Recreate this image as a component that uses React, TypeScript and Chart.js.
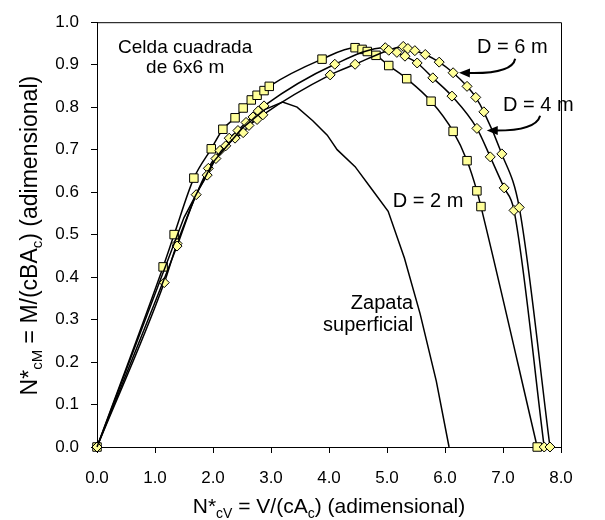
import React, { useEffect, useRef } from 'react';
import { Chart, registerables } from 'chart.js';

Chart.register(...registerables);

const FONT = "'Liberation Sans', Arial, Helvetica, sans-serif";

// Axis ticks
const xTicks = [0, 1, 2, 3, 4, 5, 6, 7, 8];
const yTicks = [0, 0.1, 0.2, 0.3, 0.4, 0.5, 0.6, 0.7, 0.8, 0.9, 1.0];

// D = 2 m (squares)
const d2X = [0, 1.14, 1.33, 1.67, 1.97, 2.17, 2.38, 2.52, 2.66, 2.76, 2.88, 2.97, 3.88, 4.45, 4.57, 4.66, 4.81, 5.03, 5.34, 5.76, 6.14, 6.38, 6.55, 6.62, 7.59];
const d2Y = [0, 0.424, 0.5, 0.633, 0.702, 0.748, 0.775, 0.798, 0.817, 0.828, 0.839, 0.849, 0.913, 0.94, 0.936, 0.931, 0.922, 0.898, 0.867, 0.814, 0.743, 0.674, 0.603, 0.566, 0];

// D = 4 m (diamonds)
const d4X = [0, 1.16, 1.38, 1.92, 2.12, 2.28, 2.43, 2.57, 2.69, 2.78, 2.88, 4.1, 4.97, 5.17, 5.31, 5.52, 5.79, 6.12, 6.55, 6.78, 7.02, 7.19, 7.71];
const d4Y = [0, 0.387, 0.479, 0.656, 0.698, 0.727, 0.745, 0.764, 0.777, 0.791, 0.803, 0.901, 0.94, 0.929, 0.92, 0.904, 0.869, 0.826, 0.75, 0.683, 0.61, 0.557, 0];

// D = 6 m (diamonds)
const d6X = [0, 1.38, 1.71, 1.9, 2.05, 2.22, 2.38, 2.52, 2.62, 2.76, 2.86, 4.02, 4.45, 5.03, 5.28, 5.36, 5.48, 5.66, 5.9, 6.14, 6.38, 6.53, 6.67, 6.98, 7.28, 7.81];
const d6Y = [0, 0.473, 0.594, 0.64, 0.679, 0.709, 0.727, 0.74, 0.757, 0.771, 0.782, 0.876, 0.901, 0.934, 0.943, 0.938, 0.933, 0.924, 0.906, 0.881, 0.849, 0.823, 0.789, 0.69, 0.564, 0];

// Zapata superficial (line only)
const zX = [0, 1.0, 1.5, 2.0, 2.5, 2.9, 3.2, 3.45, 3.72, 3.97, 4.14, 4.45, 4.71, 5.02, 5.3, 5.57, 5.85, 6.07];
const zY = [0, 0.36, 0.54, 0.67, 0.75, 0.795, 0.812, 0.8, 0.768, 0.734, 0.7, 0.66, 0.612, 0.555, 0.445, 0.314, 0.155, 0];

// Text annotations (data coordinates)
const labels = [
  { text: 'Celda cuadrada', x: 1.52, y: 0.927, align: 'center', size: 19 },
  { text: 'de 6x6 m', x: 1.52, y: 0.881, align: 'center', size: 19 },
  { text: 'D = 6 m', x: 7.16, y: 0.927, align: 'center', size: 20 },
  { text: 'D = 4 m', x: 7.0, y: 0.791, align: 'left', size: 20 },
  { text: 'D = 2 m', x: 5.1, y: 0.564, align: 'left', size: 20 },
  { text: 'Zapata', x: 5.45, y: 0.326, align: 'right', size: 20 },
  { text: 'superficial', x: 5.45, y: 0.273, align: 'right', size: 20 },
];

// Arrows (start, control, tip) in data coordinates
const arrows = [
  { sx: 7.21, sy: 0.914, cx: 7.16, cy: 0.878, ex: 6.24, ey: 0.881 },
  { sx: 7.64, sy: 0.78, cx: 7.57, cy: 0.745, ex: 6.72, ey: 0.745 },
];

const xTitle: [string, boolean][] = [['N*', false], ['cV', true], [' = V/(cA', false], ['c', true], [') (adimensional)', false]];
const yTitle: [string, boolean][] = [['N*', false], ['cM', true], [' = M/(cBA', false], ['c', true], [') (adimensional)', false]];

const toPts = (xs: number[], ys: number[]) => xs.map((x, i) => ({ x, y: ys[i] }));

function drawRich(ctx: CanvasRenderingContext2D, parts: [string, boolean][], x: number, y: number, size: number) {
  const sub = Math.round(size * 0.65);
  let w = 0;
  for (const [t, s] of parts) {
    ctx.font = `${s ? sub : size}px ${FONT}`;
    w += ctx.measureText(t).width;
  }
  let cx = x - w / 2;
  ctx.textAlign = 'left';
  ctx.textBaseline = 'alphabetic';
  for (const [t, s] of parts) {
    ctx.font = `${s ? sub : size}px ${FONT}`;
    ctx.fillText(t, cx, s ? y + size * 0.22 : y);
    cx += ctx.measureText(t).width;
  }
}

const decorPlugin = {
  id: 'decor',
  afterDraw(chart: any) {
    const ctx: CanvasRenderingContext2D = chart.ctx;
    const xs = chart.scales.x;
    const ys = chart.scales.y;
    const a = chart.chartArea;
    ctx.save();
    // top and right border
    ctx.strokeStyle = '#000';
    ctx.lineWidth = 1;
    ctx.beginPath();
    ctx.moveTo(a.left, a.top + 0.5);
    ctx.lineTo(a.right + 0.5, a.top + 0.5);
    ctx.lineTo(a.right + 0.5, a.bottom);
    ctx.stroke();

    ctx.fillStyle = '#000';
    // axis titles
    drawRich(ctx, xTitle, (a.left + a.right) / 2, 513, 21);
    ctx.save();
    ctx.translate(37, (a.top + a.bottom) / 2 + 1);
    ctx.rotate(-Math.PI / 2);
    drawRich(ctx, yTitle, 0, 0, 23);
    ctx.restore();

    // labels
    ctx.textBaseline = 'alphabetic';
    for (const l of labels) {
      ctx.font = `${l.size}px ${FONT}`;
      ctx.textAlign = l.align as CanvasTextAlign;
      ctx.fillText(l.text, xs.getPixelForValue(l.x), ys.getPixelForValue(l.y));
    }

    // arrows
    for (const ar of arrows) {
      const sx = xs.getPixelForValue(ar.sx), sy = ys.getPixelForValue(ar.sy);
      const cx = xs.getPixelForValue(ar.cx), cy = ys.getPixelForValue(ar.cy);
      const ex = xs.getPixelForValue(ar.ex), ey = ys.getPixelForValue(ar.ey);
      const ang = Math.atan2(ey - cy, ex - cx);
      const len = 11, hw = 4.5;
      const bx = ex - Math.cos(ang) * len, by = ey - Math.sin(ang) * len;
      ctx.lineWidth = 2;
      ctx.beginPath();
      ctx.moveTo(sx, sy);
      ctx.quadraticCurveTo(cx, cy, bx + Math.cos(ang) * 2, by + Math.sin(ang) * 2);
      ctx.stroke();
      ctx.beginPath();
      ctx.moveTo(ex, ey);
      ctx.lineTo(bx - Math.sin(ang) * hw, by + Math.cos(ang) * hw);
      ctx.lineTo(bx + Math.sin(ang) * hw, by - Math.cos(ang) * hw);
      ctx.closePath();
      ctx.fill();
    }
    ctx.restore();
  },
};

export default function App() {
  const ref = useRef<HTMLCanvasElement>(null);
  useEffect(() => {
    document.body.style.margin = '0';
    const canvas = ref.current!;
    const marker = '#FFFF99';
    const lineBase = { showLine: true, clip: false as const, borderColor: '#000', borderWidth: 1.5, cubicInterpolationMode: 'monotone' as const };
    const chart = new Chart(canvas, {
      type: 'scatter',
      data: {
        datasets: [
          { ...lineBase, label: 'Zapata superficial', data: toPts(zX, zY), pointRadius: 0, cubicInterpolationMode: 'default', tension: 0 },
          { ...lineBase, label: 'D = 6 m', data: toPts(d6X, d6Y), pointStyle: 'rectRot', pointRadius: 5, pointBackgroundColor: marker, pointBorderColor: '#000', pointBorderWidth: 1 },
          { ...lineBase, label: 'D = 4 m', data: toPts(d4X, d4Y), pointStyle: 'rectRot', pointRadius: 5, pointBackgroundColor: marker, pointBorderColor: '#000', pointBorderWidth: 1 },
          { ...lineBase, label: 'D = 2 m', data: toPts(d2X, d2Y), pointStyle: 'rect', pointRadius: 6, pointBackgroundColor: marker, pointBorderColor: '#000', pointBorderWidth: 1 },
        ],
      },
      options: {
        animation: false,
        responsive: false,
        devicePixelRatio: 1,
        layout: { padding: { left: 0, right: 44, top: 11, bottom: 0 } },
        plugins: { legend: { display: false }, tooltip: { enabled: false } },
        scales: {
          x: {
            type: 'linear',
            min: 0,
            max: 8,
            afterBuildTicks: (s: any) => { s.ticks = xTicks.map((v) => ({ value: v })); },
            afterFit: (s: any) => { s.height = 73; },
            grid: { drawOnChartArea: false, drawTicks: true, tickLength: 6, color: '#000' },
            border: { display: true, color: '#000', width: 1 },
            ticks: { color: '#000', padding: 15, font: { size: 17, family: FONT }, callback: (v: any) => Number(v).toFixed(1) },
          },
          y: {
            type: 'linear',
            min: 0,
            max: 1,
            afterBuildTicks: (s: any) => { s.ticks = yTicks.map((v) => ({ value: v })); },
            afterFit: (s: any) => { s.width = 97; },
            grid: { drawOnChartArea: false, drawTicks: true, tickLength: 6, color: '#000' },
            border: { display: true, color: '#000', width: 1 },
            ticks: { color: '#000', padding: 12, font: { size: 17, family: FONT }, callback: (v: any) => Number(v).toFixed(1) },
          },
        },
      },
      plugins: [decorPlugin],
    });
    return () => chart.destroy();
  }, []);
  return (
    <div style={{ width: 605, height: 520 }}>
      <canvas ref={ref} width={605} height={520} />
    </div>
  );
}
